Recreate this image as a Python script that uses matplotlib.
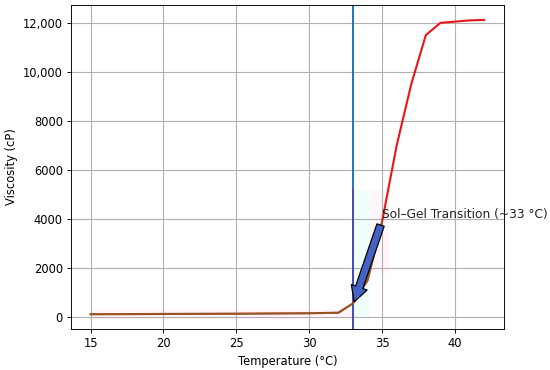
import matplotlib
matplotlib.use("Agg")
import matplotlib.pyplot as plt
from matplotlib.ticker import FixedLocator, FixedFormatter

temps = [15, 20, 25, 30, 32, 33, 34, 35, 36, 37, 38, 39, 40, 41, 42]
viscosity = [120, 130, 140, 160, 180, 560, 1500, 3900, 7000, 9500, 11500, 12000, 12050, 12100, 12120]
low_temps = temps[:8]
low_visc = viscosity[:8]
yticks = [0, 2000, 4000, 6000, 8000, 10000, 12000]
ytick_labels = ["0", "2000", "4000", "6000", "8000", "10,000", "12,000"]
transition_t = 33
label_xy = (35.0, 4200)
tip_xy = (33.05, 560)

s = 0.83
plt.rcParams.update({
    "font.size": 10 * s,
    "axes.linewidth": 0.8 * s,
    "xtick.major.size": 3.5 * s,
    "ytick.major.size": 3.5 * s,
    "xtick.major.width": 0.8 * s,
    "ytick.major.width": 0.8 * s,
    "xtick.major.pad": 3.5 * s,
    "ytick.major.pad": 3.5 * s,
    "axes.labelpad": 4 * s,
})

fig = plt.figure(figsize=(5.5, 3.7), dpi=100)
ax = fig.add_axes([0.129, 0.111, 0.787, 0.875])

lo, hi = min(viscosity), max(viscosity)
pad = 0.05 * (hi - lo)
ax.set_ylim(lo - pad, hi + pad)
ax.set_xlim(min(temps) - 0.05 * (max(temps) - min(temps)), max(temps) + 0.05 * (max(temps) - min(temps)))

ax.plot(temps, viscosity, color="#e8161b", lw=1.5, zorder=3)
ax.plot(low_temps, low_visc, color="#2ca02c", lw=1.5, alpha=0.45, zorder=4)

# faint highlight patches
ax.fill_between([15, 33], [-60, -60], [330, 330], color="#ff80c0", alpha=0.08, lw=0, zorder=1)
ax.fill_between([33, 34.2], [0, 0], [5200, 5200], color="#40ffe0", alpha=0.07, lw=0, zorder=1)
ax.fill_between([34.2, 35.5], [1800, 1800], [5200, 5200], color="#ff80c0", alpha=0.07, lw=0, zorder=1)

ax.axvline(transition_t, color="#1f77b4", lw=1.4, zorder=2)
ax.plot([transition_t, transition_t], [lo - pad, 5200], color="#4b4bbf", lw=1.4, zorder=2)

ax.annotate("Sol\u2013Gel Transition (~33 \u00b0C)", xy=tip_xy, xytext=label_xy,
            ha="left", va="center", fontsize=8.8, color="#222222",
            arrowprops=dict(facecolor="#4463c4", edgecolor="black", shrink=0.02,
                            width=5.5, headwidth=12, headlength=11, lw=0.9),
            zorder=6)

ax.set_xlabel("Temperature (\u00b0C)")
ax.set_ylabel("Viscosity (cP)")
ax.yaxis.set_major_locator(FixedLocator(yticks))
ax.yaxis.set_major_formatter(FixedFormatter(ytick_labels))
ax.grid(True, color="#b0b0b0", lw=0.8)
ax.set_axisbelow(True)

fig.savefig("out.png", dpi=100)
